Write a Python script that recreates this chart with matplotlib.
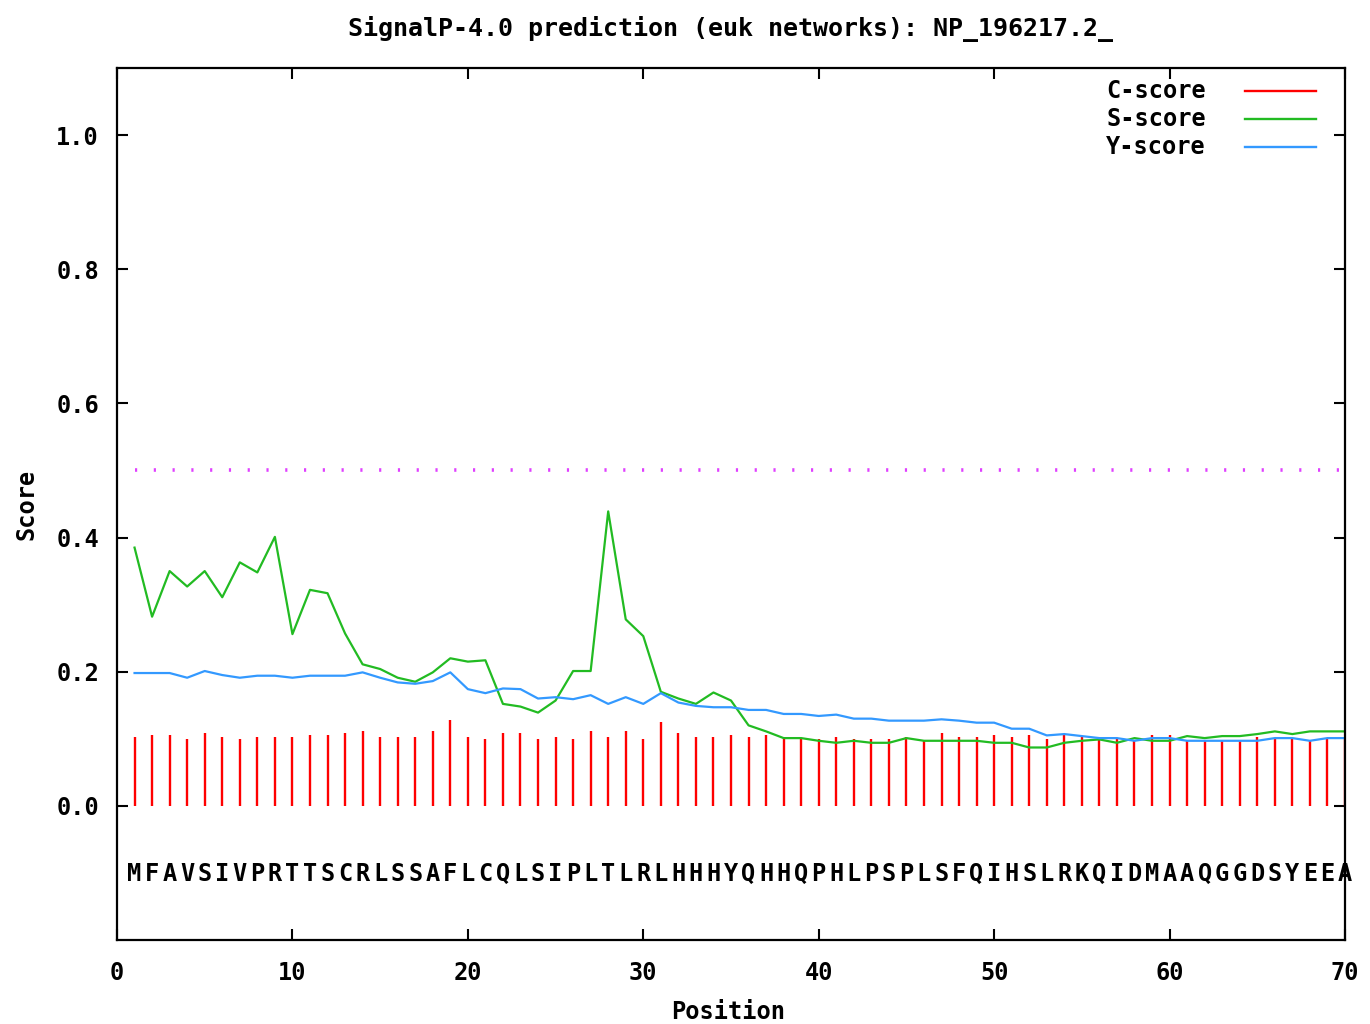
import numpy as np
import matplotlib
matplotlib.use("Agg")
import matplotlib.pyplot as plt

# SignalP-4.0 output for NP_196217.2
sequence = "MFAVSIVPRTTSCRLSSAFLCQLSIPLTLRLHHHYQHHQPHLPSPLSFQIHSLRKQIDMAAQGGDSYEEA"
positions = np.arange(1, len(sequence) + 1)

c_score = [0.102, 0.105, 0.105, 0.099, 0.108, 0.102, 0.099, 0.102, 0.102, 0.102,
           0.105, 0.105, 0.108, 0.111, 0.102, 0.102, 0.102, 0.111, 0.128, 0.102,
           0.099, 0.108, 0.108, 0.099, 0.102, 0.099, 0.111, 0.102, 0.111, 0.099,
           0.125, 0.108, 0.102, 0.102, 0.105, 0.102, 0.105, 0.100, 0.100, 0.099,
           0.102, 0.099, 0.099, 0.099, 0.102, 0.097, 0.108, 0.102, 0.102, 0.105,
           0.102, 0.105, 0.099, 0.105, 0.102, 0.099, 0.099, 0.097, 0.105, 0.105,
           0.097, 0.097, 0.097, 0.097, 0.102, 0.100, 0.100, 0.097, 0.100, 0.100]

s_score = [0.385, 0.282, 0.350, 0.327, 0.350, 0.311, 0.363, 0.348, 0.401, 0.256,
           0.322, 0.317, 0.257, 0.211, 0.204, 0.191, 0.185, 0.199, 0.220, 0.215,
           0.217, 0.152, 0.148, 0.139, 0.157, 0.201, 0.201, 0.439, 0.278, 0.253,
           0.170, 0.160, 0.152, 0.169, 0.157, 0.120, 0.111, 0.101, 0.101, 0.097,
           0.094, 0.097, 0.094, 0.094, 0.101, 0.097, 0.097, 0.097, 0.097, 0.094,
           0.094, 0.087, 0.087, 0.094, 0.097, 0.099, 0.094, 0.101, 0.097, 0.097,
           0.104, 0.101, 0.104, 0.104, 0.107, 0.111, 0.107, 0.111, 0.111, 0.111]

y_score = [0.198, 0.198, 0.198, 0.191, 0.201, 0.195, 0.191, 0.194, 0.194, 0.191,
           0.194, 0.194, 0.194, 0.199, 0.191, 0.184, 0.182, 0.186, 0.199, 0.174,
           0.168, 0.175, 0.174, 0.160, 0.162, 0.159, 0.165, 0.152, 0.162, 0.152,
           0.168, 0.154, 0.149, 0.147, 0.147, 0.143, 0.143, 0.137, 0.137, 0.134,
           0.136, 0.130, 0.130, 0.127, 0.127, 0.127, 0.129, 0.127, 0.124, 0.124,
           0.115, 0.115, 0.105, 0.107, 0.104, 0.101, 0.101, 0.097, 0.101, 0.101,
           0.097, 0.097, 0.097, 0.097, 0.097, 0.101, 0.101, 0.097, 0.101, 0.101]

cutoff = 0.5

labels = ["C-score", "S-score", "Y-score"]
colors = ["#ff0000", "#22bb22", "#3399ff"]

plt.rcParams["font.family"] = "DejaVu Sans Mono"
plt.rcParams["font.weight"] = "bold"

fig = plt.figure(figsize=(13.7, 10.24), dpi=100)
ax = fig.add_axes([117 / 1370, 1 - 940 / 1024, 1228 / 1370, 872 / 1024])

# C-score impulses, S and Y curves
ax.vlines(positions, 0, c_score, color=colors[0], lw=1.7)
ax.plot(positions, s_score, color=colors[1], lw=1.6)
ax.plot(positions, y_score, color=colors[2], lw=1.6)

# cutoff line
ax.plot([positions[0], positions[-1]], [cutoff, cutoff], color="#e040ff",
        lw=2.6, linestyle=(0, (0.6, 4.6)), dash_capstyle="butt")

# amino acid sequence under the plot
for p, aa in zip(positions, sequence):
    ax.text(p, -0.102, aa, ha="center", va="center", fontsize=17,
            fontweight="bold", clip_on=False)

# key, gnuplot style: label then sample line
for i, (lab, col) in enumerate(zip(labels, colors)):
    yk = 0.9736 - i * 0.0321
    ax.text(0.8054, yk, lab, transform=ax.transAxes, ha="left", va="center",
            fontsize=17, fontweight="bold")
    ax.plot([0.9186, 0.9764], [yk, yk], transform=ax.transAxes, color=col,
            lw=1.7)

ax.set_xlim(0, 70)
ax.set_ylim(-0.2, 1.1)
ax.set_xticks(np.arange(0, 71, 10))
ax.set_yticks([0.0, 0.2, 0.4, 0.6, 0.8, 1.0])
ax.set_yticklabels(["0.0", "0.2", "0.4", "0.6", "0.8", "1.0"])
ax.tick_params(direction="in", length=8, width=1.5, top=True, right=True,
               labelsize=17)
ax.tick_params(axis="x", pad=15)
ax.tick_params(axis="y", pad=13)
for sp in ax.spines.values():
    sp.set_linewidth(1.6)

ax.set_xlabel("Position", fontsize=17, fontweight="bold", va="center")
ax.xaxis.set_label_coords(0.498, -0.0826)
ax.set_ylabel("Score", fontsize=17, fontweight="bold", va="center")
ax.yaxis.set_label_coords(-0.0733, 0.499)
ax.set_title("SignalP-4.0 prediction (euk networks): NP_196217.2_",
             fontsize=18, fontweight="bold", pad=23)

fig.savefig("out.png", dpi=100)
